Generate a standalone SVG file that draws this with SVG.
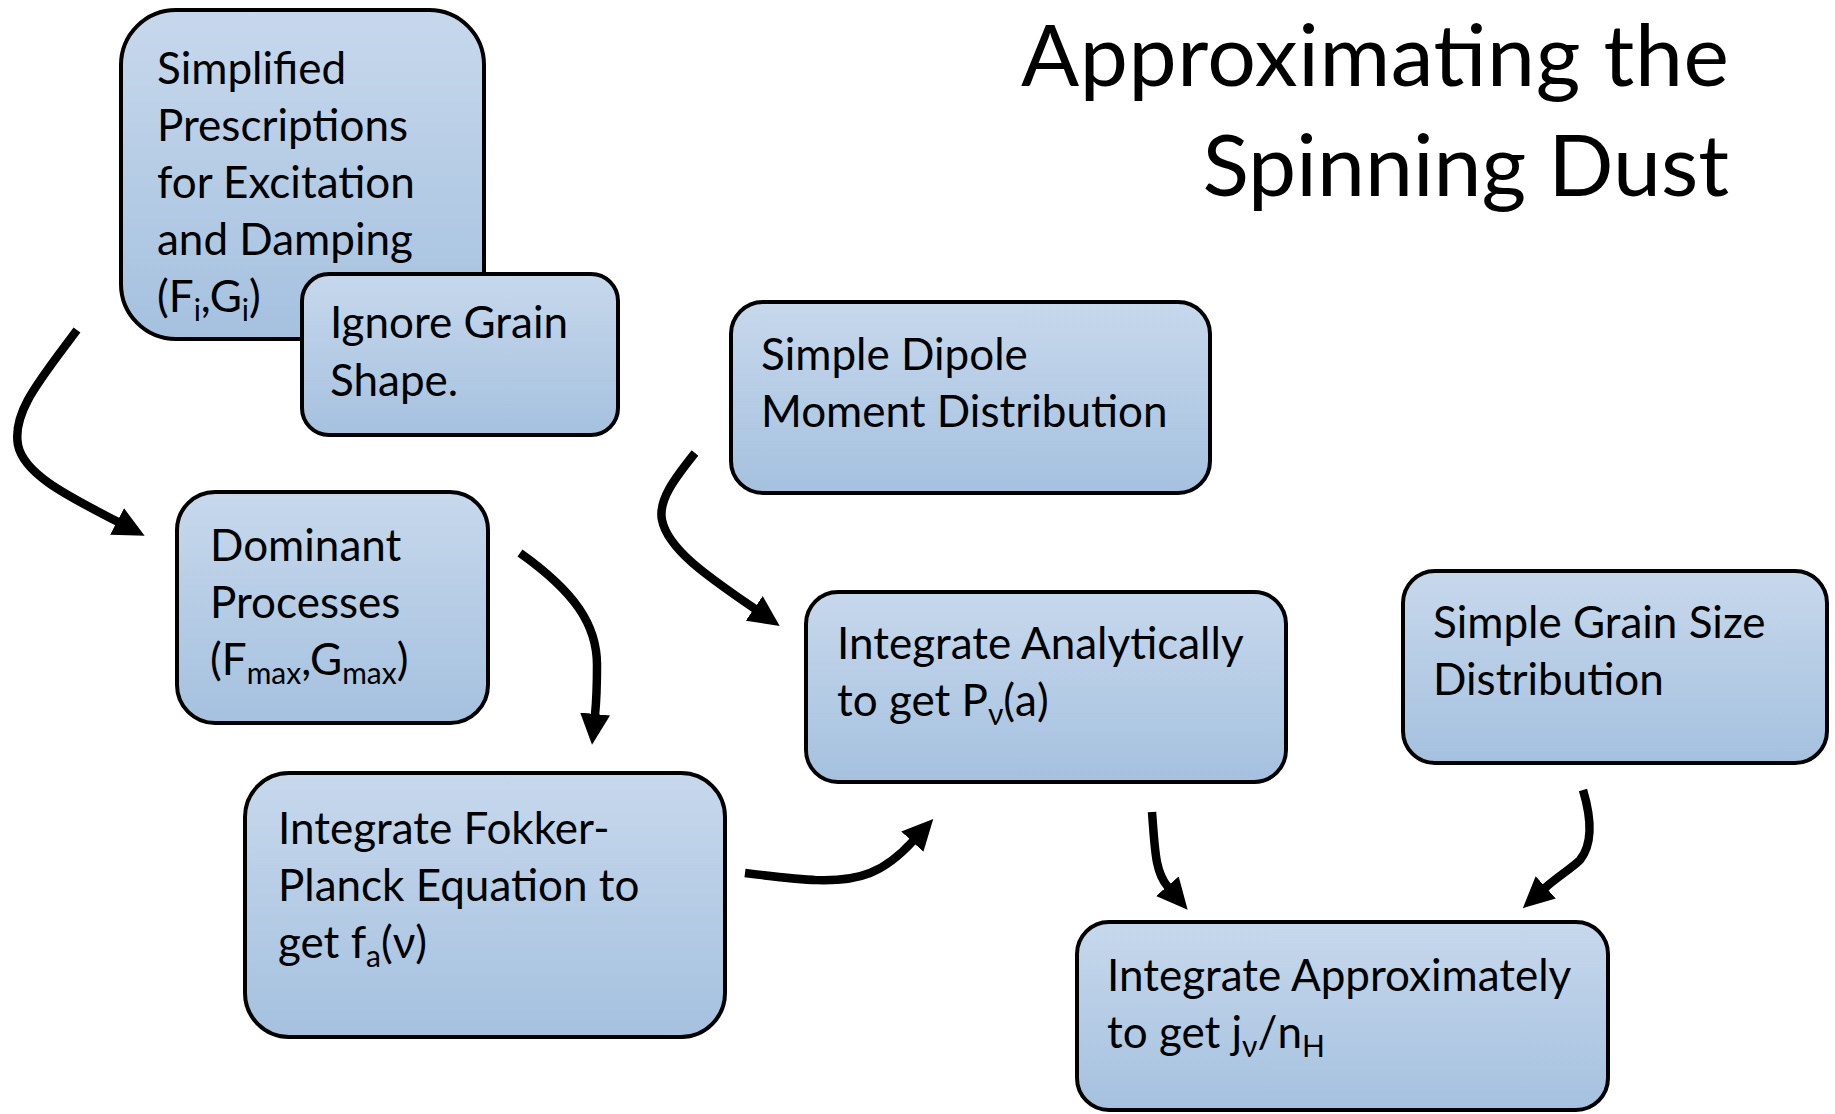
<svg xmlns="http://www.w3.org/2000/svg" width="1835" height="1114" viewBox="0 0 1835 1114">
  <defs>
    <linearGradient id="boxFill" x1="0" y1="0" x2="0" y2="1">
      <stop offset="0" stop-color="#C7D8EC"/>
      <stop offset="1" stop-color="#A5C1DF"/>
    </linearGradient>
    <marker id="head" viewBox="0 0 31 30" markerUnits="userSpaceOnUse" markerWidth="31" markerHeight="30" refX="1" refY="15" orient="auto">
      <path d="M0,0 L31,15 L0,30 Z" fill="#000"/>
    </marker>
  </defs>
  <style>
    .box { fill: url(#boxFill); stroke: #000; stroke-width: 4; }
    .lbl { font-family: Lato, "Open Sans", "Liberation Sans", sans-serif; font-size: 44px; fill: #000; }
    .sub { font-size: 30px; }
    .title { font-family: Lato, "Open Sans", "Liberation Sans", sans-serif; font-size: 86px; fill: #000; text-anchor: end; }
    .arrow { fill: none; stroke: #000; stroke-width: 8.5; marker-end: url(#head); }
  </style>

  <rect width="1835" height="1114" fill="#fff"/>

  <g id="title">
    <text class="title" x="1729" y="86" textLength="708">Approximating the</text>
    <text class="title" x="1729" y="196">Spinning Dust</text>
  </g>

  <g id="connectors">
    <path class="arrow" d="M77,330 C40,380 12,412 18,445 C24,475 70,497 118,522"/>
    <path class="arrow" d="M520,553 C575,592 597,625 597,665 C597,690 596,705 595,715"/>
    <path class="arrow" d="M745,873 C800,880 840,885 870,873 C888,866 902,853 913,841"/>
    <path class="arrow" d="M695,453 C675,478 658,500 662,520 C668,550 710,578 755,609"/>
    <path class="arrow" d="M1152,812 C1155,850 1155,872 1168,887"/>
    <path class="arrow" d="M1583,790 C1592,820 1592,845 1580,860 C1572,868 1556,878 1545,888"/>
  </g>

  <g id="prescriptions">
    <rect class="box" x="121" y="10" width="363" height="329" rx="55"/>
    <text class="lbl" x="157" y="84">Simplified</text>
    <text class="lbl" x="157" y="141">Prescriptions</text>
    <text class="lbl" x="157" y="198">for Excitation</text>
    <text class="lbl" x="157" y="255">and Damping</text>
    <text class="lbl" x="157" y="312">(F<tspan class="sub" dy="9">i</tspan><tspan dy="-9">,G</tspan><tspan class="sub" dy="9">i</tspan><tspan dy="-9">)</tspan></text>
  </g>

  <g id="grain-shape">
    <rect class="box" x="302" y="274" width="316" height="161" rx="27"/>
    <text class="lbl" x="330" y="338">Ignore Grain</text>
    <text class="lbl" x="330" y="396">Shape.</text>
  </g>

  <g id="dipole">
    <rect class="box" x="731" y="302" width="479" height="191" rx="32"/>
    <text class="lbl" x="761" y="370">Simple Dipole</text>
    <text class="lbl" x="761" y="427">Moment Distribution</text>
  </g>

  <g id="dominant">
    <rect class="box" x="177" y="492" width="311" height="231" rx="38"/>
    <text class="lbl" x="210" y="561">Dominant</text>
    <text class="lbl" x="210" y="618">Processes</text>
    <text class="lbl" x="210" y="675">(F<tspan class="sub" dy="9">max</tspan><tspan dy="-9">,G</tspan><tspan class="sub" dy="9">max</tspan><tspan dy="-9">)</tspan></text>
  </g>

  <g id="analytic">
    <rect class="box" x="806" y="592" width="480" height="190" rx="32"/>
    <text class="lbl" x="837" y="659">Integrate Analytically</text>
    <text class="lbl" x="837" y="716">to get P<tspan class="sub" dy="9">ν</tspan><tspan dy="-9">(a)</tspan></text>
  </g>

  <g id="grain-size">
    <rect class="box" x="1403" y="571" width="424" height="192" rx="32"/>
    <text class="lbl" x="1433" y="638">Simple Grain Size</text>
    <text class="lbl" x="1433" y="695">Distribution</text>
  </g>

  <g id="fokker-planck">
    <rect class="box" x="245" y="773" width="480" height="264" rx="44"/>
    <text class="lbl" x="278" y="844">Integrate Fokker-</text>
    <text class="lbl" x="278" y="901">Planck Equation to</text>
    <text class="lbl" x="278" y="958">get f<tspan class="sub" dy="9">a</tspan><tspan dy="-9">(ν)</tspan></text>
  </g>

  <g id="approximate">
    <rect class="box" x="1077" y="922" width="531" height="188" rx="32"/>
    <text class="lbl" x="1107" y="991">Integrate Approximately</text>
    <text class="lbl" x="1107" y="1048">to get j<tspan class="sub" dy="9">ν</tspan><tspan dy="-9">/n</tspan><tspan class="sub" dy="9">H</tspan></text>
  </g>
</svg>
